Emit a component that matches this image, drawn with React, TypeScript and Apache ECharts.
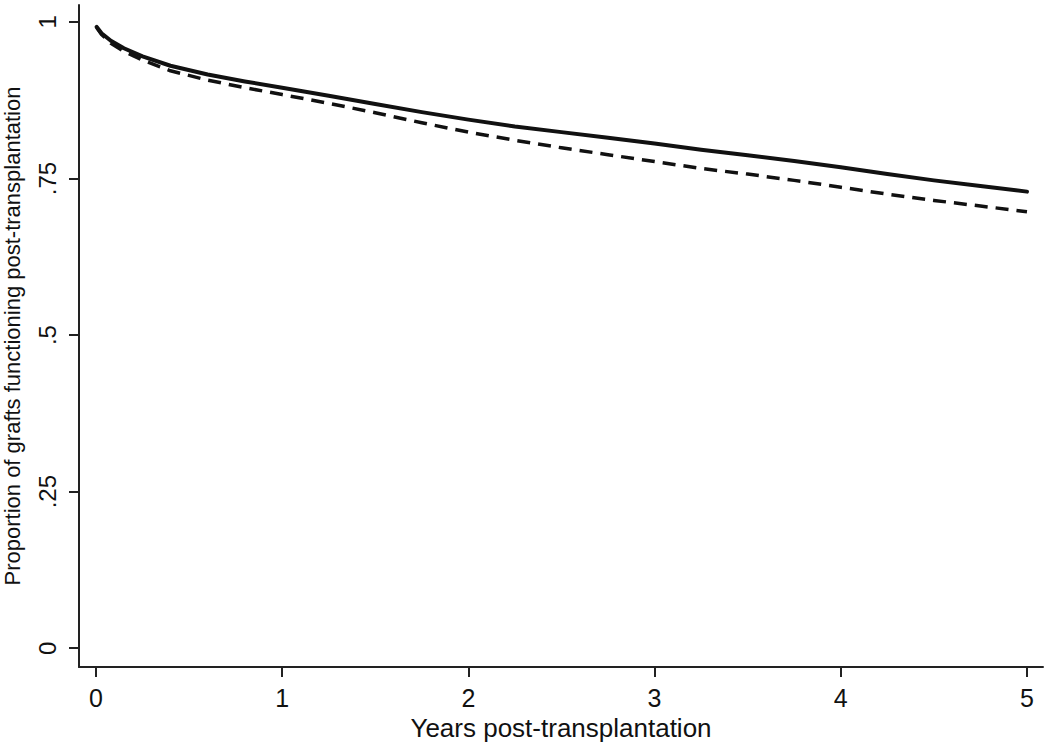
import React, { useEffect, useRef } from "react";
import * as echarts from "echarts";

const years = [0.004, 0.03, 0.08, 0.15, 0.25, 0.4, 0.6, 0.8, 1.0, 1.25, 1.5, 1.75, 2.0, 2.25, 2.5, 2.75, 3.0, 3.25, 3.5, 3.75, 4.0, 4.25, 4.5, 4.75, 5.0];
const solidValues = [0.992, 0.982, 0.970, 0.958, 0.945, 0.930, 0.916, 0.905, 0.895, 0.882, 0.869, 0.856, 0.844, 0.833, 0.824, 0.815, 0.806, 0.796, 0.787, 0.778, 0.768, 0.757, 0.747, 0.738, 0.729];
const dashedValues = [0.991, 0.980, 0.966, 0.953, 0.939, 0.922, 0.907, 0.895, 0.884, 0.870, 0.855, 0.839, 0.824, 0.811, 0.799, 0.788, 0.777, 0.766, 0.757, 0.747, 0.736, 0.725, 0.715, 0.706, 0.697];
const xTicks = [0, 1, 2, 3, 4, 5];
const yTicks = [0, 0.25, 0.5, 0.75, 1];
const yTickLabels = ["0", ".25", ".5", ".75", "1"];

const FONT = "'Liberation Sans', Arial, sans-serif";

export default function App() {
  const ref = useRef<HTMLDivElement>(null);
  useEffect(() => {
    document.body.style.margin = "0";
    const chart = echarts.init(ref.current!, null, { renderer: "svg" });
    chart.setOption({
      animation: false,
      backgroundColor: "#ffffff",
      grid: { left: 79, right: 7, top: 5, bottom: 78, containLabel: false, outerBoundsMode: "none" },
      xAxis: {
        type: "value",
        min: -0.091,
        max: 5.086,
        name: "Years post-transplantation",
        nameLocation: "middle",
        nameGap: 40,
        nameTextStyle: { fontSize: 26, color: "#111", fontFamily: FONT },
        splitLine: { show: false },
        axisLine: { show: true, onZero: false, lineStyle: { color: "#222", width: 2 } },
        axisTick: { show: true, length: 10, customValues: xTicks, lineStyle: { color: "#222", width: 2 } },
        axisLabel: {
          customValues: xTicks,
          margin: 18,
          fontSize: 25,
          color: "#111",
          fontFamily: FONT,
          formatter: (v: number) => String(v),
        },
      },
      yAxis: {
        type: "value",
        min: -0.03,
        max: 1.027,
        name: "Proportion of grafts functioning post-transplantation",
        nameLocation: "middle",
        nameGap: 56,
        nameTextStyle: { fontSize: 22, color: "#111", fontFamily: FONT },
        splitLine: { show: false },
        axisLine: { show: true, onZero: false, lineStyle: { color: "#222", width: 2 } },
        axisTick: { show: true, length: 10, customValues: yTicks, lineStyle: { color: "#222", width: 2 } },
        axisLabel: {
          customValues: yTicks,
          rotate: 90,
          margin: 20,
          fontSize: 24,
          color: "#111",
          fontFamily: FONT,
          formatter: (v: number) => {
            const i = yTicks.indexOf(v);
            return i >= 0 ? yTickLabels[i] : "";
          },
        },
      },
      series: [
        {
          type: "line",
          data: years.map((x, i) => [x, solidValues[i]]),
          showSymbol: false,
          smooth: false,
          lineStyle: { color: "#111", width: 4, join: "round", cap: "round" },
        },
        {
          type: "line",
          data: years.map((x, i) => [x, dashedValues[i]]),
          showSymbol: false,
          smooth: false,
          lineStyle: { color: "#111", width: 3.5, type: [13, 8], join: "round" },
        },
      ],
    });
    return () => chart.dispose();
  }, []);
  return <div ref={ref} style={{ width: 1050, height: 745 }} />;
}
